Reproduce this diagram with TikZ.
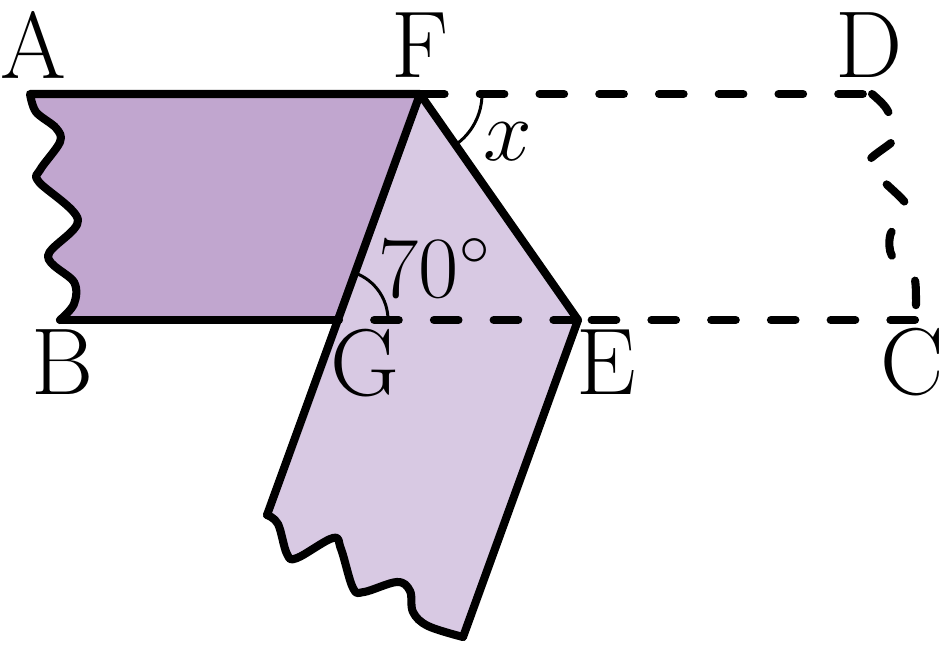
\documentclass[tikz,border=0pt]{standalone}
\usetikzlibrary{positioning}
\definecolor{bandefonce}{HTML}{C1A6CF}
\definecolor{bandeclaire}{HTML}{D8C9E3}
\tikzset{
	bord/.style={line width=2.3pt, line join=round, line cap=round},
	pli/.style={bord, dash pattern=on 7pt off 10pt},
	angle/.style={line width=0.85pt},
	lettre/.style={font=\fontsize{27}{32}\selectfont, inner sep=0pt},
}

\begin{document}
\begin{tikzpicture}
\useasboundingbox (0,0) rectangle (9.45,6.44);

\coordinate(A) at (0.30,5.50);
\coordinate(F) at (4.20,5.50);
\coordinate(D) at (8.72,5.50);
\coordinate(B) at (0.60,3.24);
\coordinate(G) at (3.38,3.24);
\coordinate(E) at (5.78,3.24);
\coordinate(C) at (9.15,3.24);
\coordinate(L) at (2.67,1.29);
\coordinate(R) at (4.63,0.07);

% bande restee en place
\fill[bandefonce] plot[smooth, tension=.55] coordinates {(B) (0.74,3.40) (0.74,3.62) (0.48,3.88) (0.78,4.24) (0.39,4.62) (0.40,4.74) (0.60,5.02) (0.56,5.16) (0.36,5.32) (A)} -- (F) -- (G) -- cycle;
% partie pliee
\fill[bandeclaire] (F) -- (E) -- (R) -- plot[smooth, tension=.6] coordinates {(R) (4.28,0.18) (4.13,0.32) (4.10,0.53) (3.97,0.62) (3.64,0.52) (3.53,0.56) (3.41,0.95) (3.33,1.06) (2.97,0.86) (2.87,0.90) (2.78,1.20) (L)} -- cycle;

\draw[bord] plot[smooth, tension=.55] coordinates {(B) (0.74,3.40) (0.74,3.62) (0.48,3.88) (0.78,4.24) (0.39,4.62) (0.40,4.74) (0.60,5.02) (0.56,5.16) (0.36,5.32) (A)} -- (F);
\draw[bord] (B) -- (G);
\draw[bord] (F) -- (L);
\draw[bord] (F) -- (E) -- (R);
\draw[bord] plot[smooth, tension=.6] coordinates {(R) (4.28,0.18) (4.13,0.32) (4.10,0.53) (3.97,0.62) (3.64,0.52) (3.53,0.56) (3.41,0.95) (3.33,1.06) (2.97,0.86) (2.87,0.90) (2.78,1.20) (L)};

% position initiale
\draw[pli] (F) -- (D);
\draw[pli] plot[smooth, tension=.5] coordinates {(D) (8.86,5.36) (8.97,5.12) (8.92,5.02) (8.68,4.82) (8.80,4.66) (9.06,4.40) (9.00,4.26) (8.90,4.08) (8.92,3.88) (9.13,3.70) (9.16,3.46) (C)};
\draw[pli] (C) -- (E);
\draw[pli] (E) -- (G);

\draw[angle] (F) ++(0.62,0) arc[start angle=0, end angle=-55, radius=0.62];
\draw[angle] (G) ++(0.50,0) arc[start angle=0, end angle=70, radius=0.50];

\node[lettre](lA) at (0.33,5.99) {A};
\node[lettre](lF) at (4.20,5.99) {F};
\node[lettre](lD) at (8.69,5.99) {D};
\node[lettre](lB) at (0.63,2.82) {B};
\node[lettre](lG) at (3.65,2.81) {G};
\node[lettre](lE) at (6.06,2.82) {E};
\node[lettre](lC) at (9.12,2.82) {C};
\node[lettre](lx) at (5.08,5.02) {$x$};
\node[lettre](l70) at (4.35,3.76) {$70^\circ$};

\end{tikzpicture}
\end{document}
